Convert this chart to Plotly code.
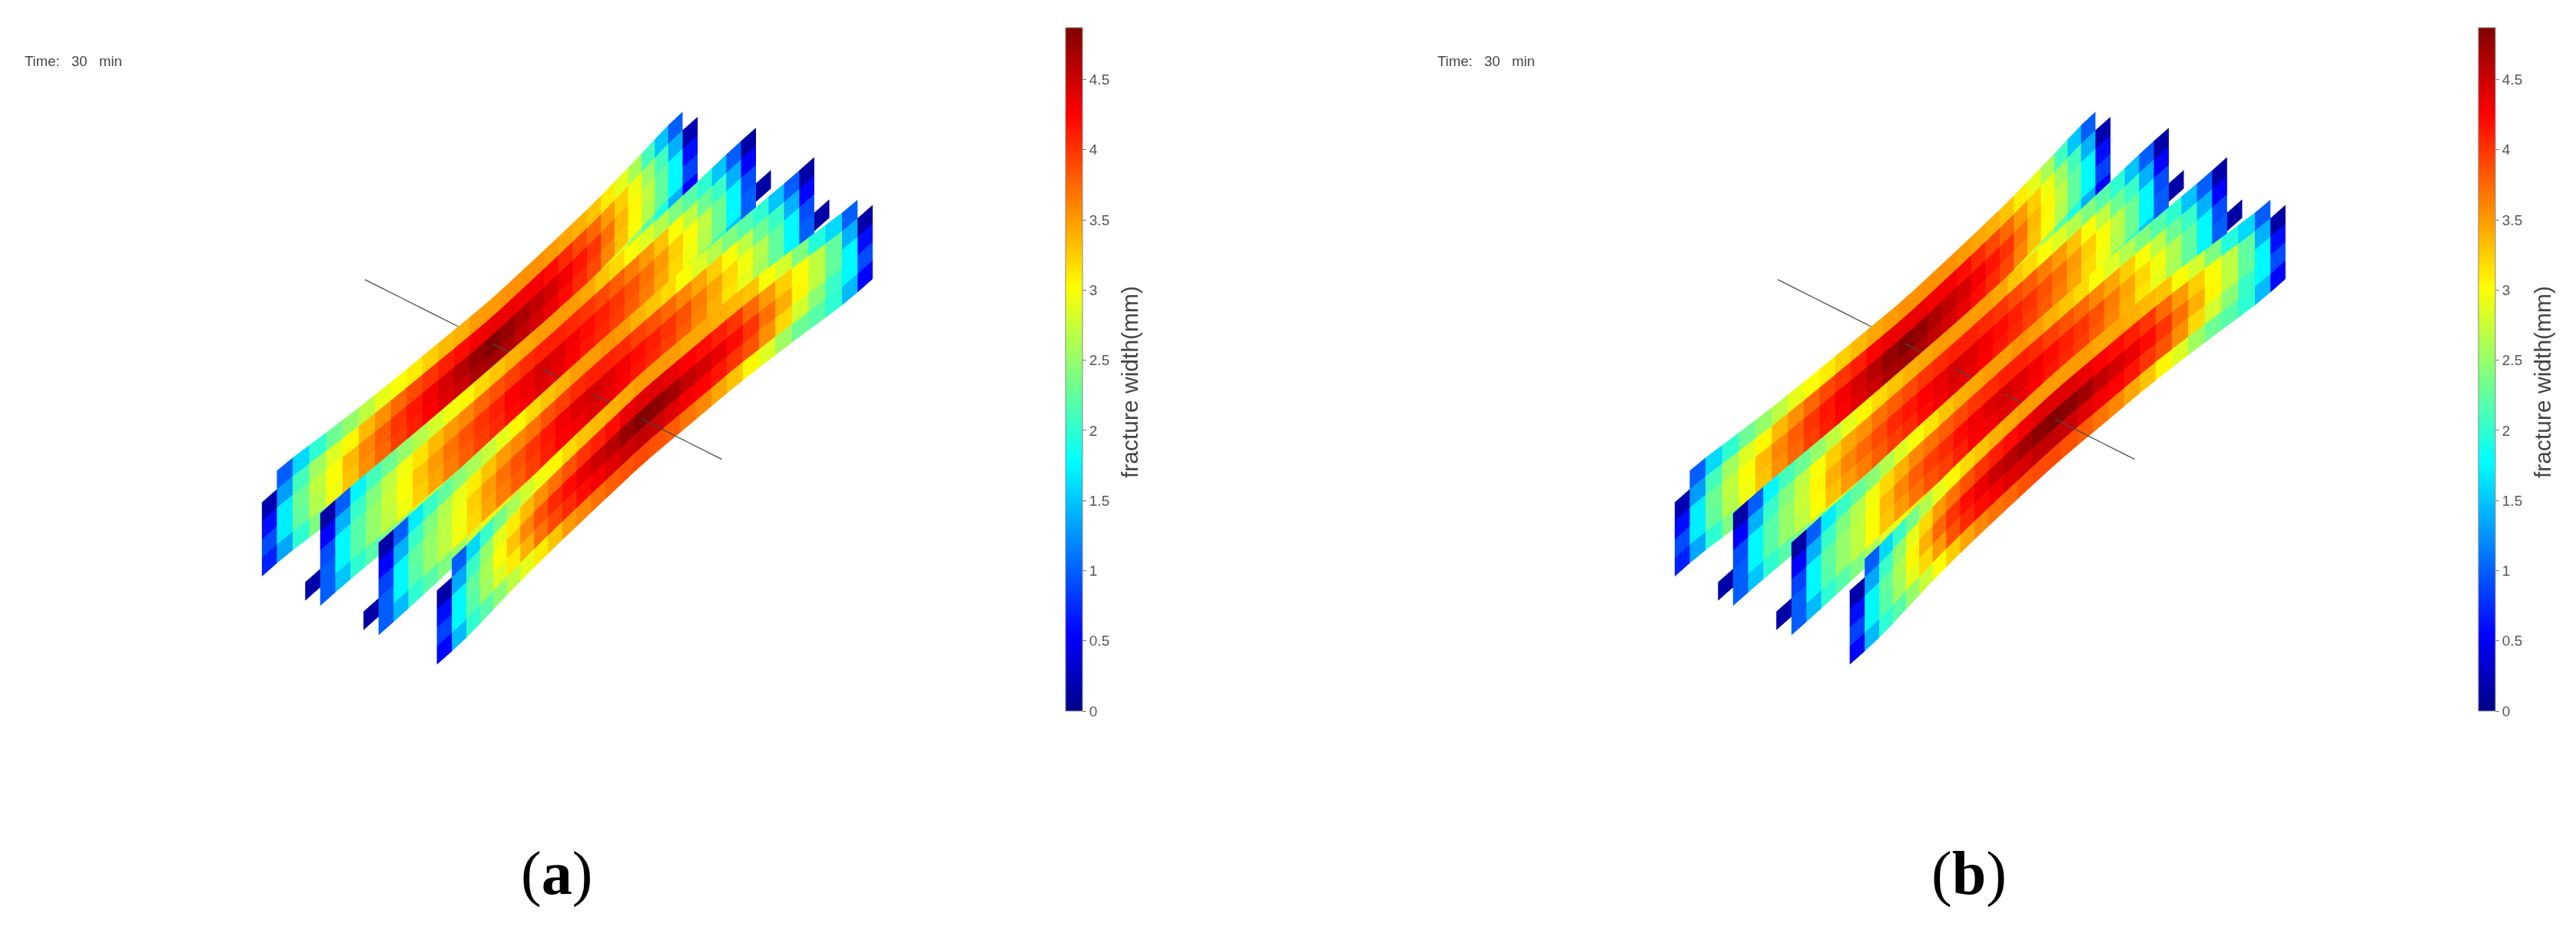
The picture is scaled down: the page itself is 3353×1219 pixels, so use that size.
import plotly.graph_objects as go

# fracture width (mm), one list per row from the top row down, columns run along the fracture length
A1_ROWS = [
    [None, 1.0, 1.6, 2.0, 2.3, 2.5, 2.7, 2.9, 3.0, 3.1, 3.25, 3.35, 3.4, 3.5, 3.5, 3.55, 3.55, 3.55, 3.5, 3.45, 3.4, 3.3, 3.1, 2.9, 2.6, 2.1, 1.5, 1.0, None],
    [0.2, 1.3, 2.1, 2.55, 2.85, 3.05, 3.35, 3.55, 3.75, 3.9, 4.0, 4.1, 4.2, 4.3, 4.35, 4.35, 4.3, 4.3, 4.2, 4.05, 3.9, 3.75, 3.5, 3.25, 2.95, 2.55, 2.1, 1.4, 0.2],
    [0.6, 1.7, 2.3, 2.7, 3.0, 3.35, 3.6, 3.8, 4.0, 4.15, 4.3, 4.45, 4.6, 4.75, 4.85, 4.75, 4.65, 4.55, 4.45, 4.3, 4.15, 4.0, 3.7, 3.35, 3.05, 2.7, 2.25, 1.75, 0.6],
    [0.9, 1.7, 2.25, 2.65, 2.95, 3.3, 3.55, 3.75, 3.95, 4.1, 4.25, 4.4, 4.5, 4.65, 4.7, 4.65, 4.55, 4.45, 4.35, 4.2, 4.05, 3.9, 3.6, 3.3, 3.0, 2.65, 2.25, 1.75, 0.85],
    [0.7, 1.35, 2.0, 2.4, 2.55, 2.8, 3.0, 3.15, 3.3, 3.45, 3.6, 3.7, 3.8, 3.85, 3.9, 3.9, 3.85, 3.75, 3.65, 3.5, 3.35, 3.2, 3.0, 2.8, 2.5, 2.2, 1.9, 1.4, 0.55],
]
A2_ROWS = [
    [None, 0.15, 1.0, 1.75, 2.1, 2.3, 2.5, 2.65, 2.8, 2.95, 3.05, 3.2, 3.3, 3.4, 3.45, 3.5, 3.5, 3.5, 3.45, 3.3, 3.2, 3.0, 2.85, 2.65, 2.4, 2.2, 2.0, 1.5, 1.0, 0.15, None],
    [None, 0.55, 1.4, 2.05, 2.4, 2.7, 2.95, 3.15, 3.35, 3.5, 3.6, 3.75, 3.85, 3.95, 4.05, 4.1, 4.1, 4.05, 4.0, 3.9, 3.8, 3.65, 3.5, 3.3, 3.0, 2.7, 2.3, 2.05, 1.4, 0.55, None],
    [None, 0.9, 1.75, 2.2, 2.5, 2.75, 3.0, 3.3, 3.5, 3.7, 3.85, 4.0, 4.1, 4.25, 4.35, 4.45, 4.4, 4.3, 4.2, 4.1, 4.0, 3.85, 3.7, 3.5, 3.25, 3.0, 2.7, 2.3, 1.75, 0.9, None],
    [0.15, 1.0, 1.75, 2.2, 2.5, 2.7, 2.95, 3.25, 3.45, 3.65, 3.8, 3.95, 4.05, 4.2, 4.3, 4.4, 4.35, 4.25, 4.15, 4.05, 3.95, 3.8, 3.65, 3.45, 3.2, 2.95, 2.65, 2.3, 1.75, 1.0, 0.15],
    [None, 1.0, 1.5, 2.0, 2.2, 2.4, 2.55, 2.8, 2.95, 3.1, 3.2, 3.35, 3.45, 3.55, 3.6, 3.7, 3.65, 3.55, 3.5, 3.4, 3.3, 3.2, 3.05, 2.9, 2.7, 2.5, 2.3, 2.0, 1.5, 1.0, None],
]
A3_ROWS = [
    [None, 0.15, 1.0, 1.7, 2.05, 2.25, 2.45, 2.6, 2.75, 2.9, 3.05, 3.2, 3.3, 3.4, 3.5, 3.5, 3.55, 3.5, 3.4, 3.3, 3.2, 3.0, 2.85, 2.65, 2.4, 2.2, 2.0, 1.5, 1.0, 0.15, None],
    [None, 0.55, 1.4, 2.05, 2.4, 2.65, 2.9, 3.1, 3.3, 3.5, 3.6, 3.7, 3.85, 3.95, 4.05, 4.1, 4.1, 4.05, 3.95, 3.85, 3.75, 3.6, 3.45, 3.25, 3.0, 2.7, 2.3, 2.05, 1.4, 0.55, None],
    [None, 0.85, 1.75, 2.25, 2.5, 2.7, 2.95, 3.25, 3.5, 3.7, 3.85, 4.0, 4.15, 4.3, 4.4, 4.45, 4.4, 4.3, 4.2, 4.1, 4.0, 3.85, 3.65, 3.45, 3.2, 2.95, 2.65, 2.25, 1.75, 0.9, None],
    [0.15, 1.0, 1.75, 2.2, 2.5, 2.7, 2.95, 3.2, 3.45, 3.65, 3.8, 3.95, 4.1, 4.25, 4.3, 4.4, 4.35, 4.25, 4.15, 4.05, 3.95, 3.8, 3.6, 3.4, 3.15, 2.9, 2.6, 2.25, 1.75, 1.0, 0.15],
    [None, 1.0, 1.45, 2.0, 2.2, 2.4, 2.55, 2.8, 2.95, 3.1, 3.2, 3.35, 3.45, 3.55, 3.6, 3.7, 3.65, 3.55, 3.5, 3.4, 3.3, 3.2, 3.05, 2.85, 2.7, 2.5, 2.3, 2.0, 1.5, 1.0, None],
]
A4_ROWS = [
    [None, 1.0, 1.6, 2.05, 2.35, 2.6, 2.8, 2.95, 3.05, 3.2, 3.3, 3.35, 3.4, 3.45, 3.5, 3.5, 3.5, 3.45, 3.45, 3.4, 3.35, 3.3, 3.0, 2.8, 2.4, 1.95, 1.6, 1.0, None],
    [0.15, 1.35, 2.05, 2.5, 2.9, 3.1, 3.35, 3.55, 3.7, 3.85, 4.0, 4.1, 4.2, 4.35, 4.4, 4.4, 4.35, 4.25, 4.2, 4.1, 4.0, 3.75, 3.5, 3.25, 3.0, 2.7, 2.25, 1.4, 0.15],
    [0.6, 1.75, 2.25, 2.6, 3.0, 3.3, 3.6, 3.85, 4.05, 4.2, 4.35, 4.5, 4.6, 4.75, 4.85, 4.8, 4.7, 4.55, 4.45, 4.35, 4.2, 4.0, 3.7, 3.4, 3.05, 2.7, 2.25, 1.75, 0.6],
    [0.85, 1.75, 2.2, 2.55, 2.85, 3.1, 3.4, 3.7, 3.9, 4.05, 4.2, 4.3, 4.4, 4.5, 4.55, 4.5, 4.4, 4.3, 4.25, 4.15, 4.0, 3.85, 3.55, 3.2, 2.8, 2.45, 2.05, 1.75, 0.9],
    [0.55, 1.45, 2.0, 2.2, 2.45, 2.7, 2.9, 3.1, 3.3, 3.5, 3.6, 3.7, 3.8, 3.85, 3.9, 3.85, 3.8, 3.7, 3.6, 3.45, 3.3, 3.05, 2.85, 2.55, 2.3, 2.2, 2.0, 1.45, 0.55],
]

B1_ROWS = [
    [None, 1.0, 1.6, 2.0, 2.3, 2.5, 2.7, 2.9, 3.0, 3.1, 3.25, 3.35, 3.45, 3.5, 3.55, 3.55, 3.55, 3.55, 3.5, 3.45, 3.4, 3.3, 3.1, 2.9, 2.6, 2.1, 1.5, 1.0, None],
    [0.2, 1.3, 2.1, 2.55, 2.85, 3.05, 3.35, 3.55, 3.75, 3.9, 4.0, 4.1, 4.25, 4.35, 4.35, 4.35, 4.3, 4.3, 4.2, 4.05, 3.9, 3.75, 3.5, 3.25, 2.95, 2.55, 2.1, 1.4, 0.2],
    [0.6, 1.7, 2.3, 2.7, 3.0, 3.35, 3.6, 3.8, 4.0, 4.15, 4.3, 4.45, 4.6, 4.75, 4.85, 4.75, 4.65, 4.55, 4.45, 4.3, 4.15, 4.0, 3.7, 3.35, 3.05, 2.7, 2.25, 1.75, 0.6],
    [0.9, 1.7, 2.25, 2.65, 2.95, 3.3, 3.55, 3.75, 3.95, 4.1, 4.25, 4.4, 4.5, 4.65, 4.7, 4.65, 4.55, 4.45, 4.35, 4.2, 4.05, 3.9, 3.6, 3.3, 3.0, 2.65, 2.25, 1.75, 0.85],
    [0.7, 1.35, 2.0, 2.4, 2.55, 2.8, 3.0, 3.15, 3.3, 3.45, 3.6, 3.7, 3.8, 3.85, 3.9, 3.9, 3.85, 3.75, 3.65, 3.5, 3.35, 3.2, 3.0, 2.8, 2.5, 2.2, 1.9, 1.4, 0.55],
]
B2_ROWS = [
    [None, 0.15, 1.0, 1.75, 2.1, 2.3, 2.5, 2.7, 2.9, 3.05, 3.2, 3.3, 3.4, 3.45, 3.5, 3.5, 3.5, 3.5, 3.45, 3.3, 3.2, 3.0, 2.85, 2.65, 2.4, 2.2, 2.0, 1.5, 1.0, 0.15, None],
    [None, 0.55, 1.4, 2.05, 2.4, 2.7, 3.0, 3.25, 3.45, 3.55, 3.7, 3.8, 3.9, 4.0, 4.05, 4.1, 4.1, 4.05, 4.0, 3.9, 3.8, 3.65, 3.5, 3.3, 3.0, 2.7, 2.3, 2.05, 1.4, 0.55, None],
    [None, 0.9, 1.75, 2.2, 2.5, 2.75, 3.05, 3.4, 3.6, 3.75, 3.9, 4.05, 4.15, 4.25, 4.35, 4.45, 4.4, 4.3, 4.2, 4.1, 4.0, 3.85, 3.7, 3.5, 3.25, 3.0, 2.7, 2.3, 1.75, 0.9, None],
    [0.15, 1.0, 1.75, 2.2, 2.5, 2.7, 3.0, 3.3, 3.5, 3.65, 3.8, 3.95, 4.05, 4.2, 4.3, 4.4, 4.35, 4.25, 4.15, 4.05, 3.95, 3.8, 3.65, 3.45, 3.2, 2.95, 2.65, 2.3, 1.75, 1.0, 0.15],
    [None, 1.0, 1.5, 2.0, 2.2, 2.4, 2.6, 2.85, 3.0, 3.1, 3.2, 3.35, 3.45, 3.55, 3.6, 3.7, 3.65, 3.55, 3.5, 3.4, 3.3, 3.2, 3.05, 2.9, 2.7, 2.5, 2.3, 2.0, 1.5, 1.0, None],
]
B3_ROWS = [
    [None, 0.15, 1.0, 1.7, 2.05, 2.25, 2.45, 2.65, 2.85, 3.0, 3.15, 3.3, 3.4, 3.45, 3.5, 3.5, 3.55, 3.5, 3.4, 3.3, 3.2, 3.0, 2.85, 2.65, 2.4, 2.2, 2.0, 1.5, 1.0, 0.15, None],
    [None, 0.55, 1.4, 2.05, 2.4, 2.65, 2.95, 3.2, 3.4, 3.6, 3.7, 3.8, 3.9, 4.0, 4.05, 4.1, 4.1, 4.05, 3.95, 3.85, 3.75, 3.6, 3.45, 3.25, 3.0, 2.7, 2.3, 2.05, 1.4, 0.55, None],
    [None, 0.85, 1.75, 2.25, 2.5, 2.7, 3.0, 3.35, 3.6, 3.8, 3.95, 4.05, 4.2, 4.3, 4.4, 4.45, 4.4, 4.3, 4.2, 4.1, 4.0, 3.85, 3.65, 3.45, 3.2, 2.95, 2.65, 2.25, 1.75, 0.9, None],
    [0.15, 1.0, 1.75, 2.2, 2.5, 2.7, 3.0, 3.3, 3.5, 3.7, 3.85, 3.95, 4.1, 4.25, 4.3, 4.4, 4.35, 4.25, 4.15, 4.05, 3.95, 3.8, 3.6, 3.4, 3.15, 2.9, 2.6, 2.25, 1.75, 1.0, 0.15],
    [None, 1.0, 1.45, 2.0, 2.2, 2.4, 2.6, 2.85, 3.0, 3.1, 3.2, 3.35, 3.45, 3.55, 3.6, 3.7, 3.65, 3.55, 3.5, 3.4, 3.3, 3.2, 3.05, 2.85, 2.7, 2.5, 2.3, 2.0, 1.5, 1.0, None],
]
B4_ROWS = [
    [None, 1.0, 1.6, 2.05, 2.35, 2.65, 2.9, 3.05, 3.2, 3.3, 3.4, 3.45, 3.5, 3.5, 3.5, 3.5, 3.5, 3.45, 3.45, 3.4, 3.35, 3.3, 3.0, 2.8, 2.4, 1.95, 1.6, 1.0, None],
    [0.15, 1.35, 2.05, 2.5, 2.9, 3.2, 3.5, 3.7, 3.85, 4.0, 4.1, 4.2, 4.3, 4.4, 4.4, 4.4, 4.35, 4.25, 4.2, 4.1, 4.0, 3.75, 3.5, 3.25, 3.0, 2.7, 2.25, 1.4, 0.15],
    [0.6, 1.75, 2.25, 2.6, 3.05, 3.4, 3.75, 4.0, 4.2, 4.35, 4.5, 4.6, 4.7, 4.8, 4.85, 4.8, 4.7, 4.55, 4.45, 4.35, 4.2, 4.0, 3.7, 3.4, 3.05, 2.7, 2.25, 1.75, 0.6],
    [0.85, 1.75, 2.2, 2.55, 2.9, 3.2, 3.5, 3.85, 4.05, 4.2, 4.3, 4.4, 4.45, 4.55, 4.55, 4.5, 4.4, 4.3, 4.25, 4.15, 4.0, 3.85, 3.55, 3.2, 2.8, 2.45, 2.05, 1.75, 0.9],
    [0.55, 1.45, 2.0, 2.2, 2.5, 2.75, 3.0, 3.25, 3.45, 3.6, 3.7, 3.75, 3.85, 3.9, 3.9, 3.85, 3.8, 3.7, 3.6, 3.45, 3.3, 3.05, 2.85, 2.55, 2.3, 2.2, 2.0, 1.45, 0.55],
]

PANEL_A = [A1_ROWS, A2_ROWS, A3_ROWS, A4_ROWS]
PANEL_B = [B1_ROWS, B2_ROWS, B3_ROWS, B4_ROWS]

# where each fracture sits along the wellbore and where it starts along its length
FRACTURE_X = [0, 1, 2, 3]
FRACTURE_START = [1, 0, 0, 1]
WELL_X = [-1.97, 4.15]
WELL_Y = [15.5, 15.5]
WELL_Z = [2.5, 2.5]

CB_TICKS = [0, 0.5, 1, 1.5, 2, 2.5, 3, 3.5, 4, 4.5]
CB_LABELS = ["0", "0.5", "1", "1.5", "2", "2.5", "3", "3.5", "4", "4.5"]
W_MAX = 4.87

# sideways bulge of each sheet per mm of width above BULGE_FLOOR, the tips stay flat
BULGE = [0.079, 0.033, -0.027, -0.079]
BULGE_FLOOR = 2.0

JET = [
    [0.0, "rgb(0,0,135)"],
    [0.111, "rgb(0,0,255)"],
    [0.365, "rgb(0,255,255)"],
    [0.619, "rgb(255,255,0)"],
    [0.873, "rgb(255,0,0)"],
    [1.0, "rgb(128,0,0)"],
]

W, H = 3353, 1219
PANEL_SHIFT = 1839
ZOOM = 2.14  # orthographic scenes scale with the aspect ratio, not the eye distance


def column_offset(rows, c):
    # sideways offset of the column edge c, from the widest cell of the columns touching it
    vals = []
    for cc in (c - 1, c):
        if 0 <= cc < len(rows[0]):
            cells = [row[cc] for row in rows if row[cc] is not None]
            vals.append(max(max(cells) - BULGE_FLOOR, 0.0))
        else:
            vals.append(0.0)
    return sum(vals) / 2


def build_mesh(panel):
    xs, ys, zs, ii, jj, kk, val = [], [], [], [], [], [], []
    for f, top_down in enumerate(panel):
        rows = top_down[::-1]
        ncol = len(rows[0])
        base = len(xs)
        for r in range(len(rows) + 1):
            for c in range(ncol + 1):
                xs.append(FRACTURE_X[f] + BULGE[f] * column_offset(rows, c))
                ys.append(FRACTURE_START[f] + c)
                zs.append(r)
        for r, row in enumerate(rows):
            for c, w in enumerate(row):
                if w is None:
                    continue
                a = base + r * (ncol + 1) + c
                b = a + 1
                d = a + ncol + 1
                e = d + 1
                ii += [a, a]
                jj += [b, e]
                kk += [e, d]
                val += [w, w]
    return xs, ys, zs, ii, jj, kk, val


def pane_traces(panel, scene, shift):
    xs, ys, zs, ii, jj, kk, val = build_mesh(panel)
    mesh = go.Mesh3d(
        x=xs, y=ys, z=zs, i=ii, j=jj, k=kk,
        intensity=val, intensitymode="cell",
        colorscale=JET, cmin=0, cmax=W_MAX,
        flatshading=True,
        lighting=dict(ambient=1, diffuse=0, specular=0, roughness=1, fresnel=0),
        scene=scene,
        colorbar=dict(
            x=(1379 + shift) / W, xanchor="left", xpad=0,
            y=1 - 472.5 / H, yanchor="middle", ypad=0,
            len=889 / H, lenmode="fraction", thickness=22,
            tickvals=CB_TICKS, ticktext=CB_LABELS,
            ticks="outside", ticklen=5, tickcolor="#777777",
            outlinecolor="#888888", outlinewidth=1,
            tickfont=dict(family="Liberation Sans", size=19, color="#555555"),
        ),
    )
    well = go.Scatter3d(
        x=WELL_X, y=WELL_Y, z=WELL_Z, mode="lines",
        line=dict(color="#4a4a4a", width=2.5),
        scene=scene, showlegend=False,
    )
    return [mesh, well]


def scene_layout(shift):
    left, right = 100 + shift, 1300 + shift
    return dict(
        domain=dict(x=[left / W, right / W], y=[(H - 943) / H, (H - 3) / H]),
        xaxis=dict(visible=False, range=[-2.2, 4.4]),
        yaxis=dict(visible=False, range=[0, 31]),
        zaxis=dict(visible=False, range=[0, 5]),
        aspectmode="manual",
        aspectratio=dict(x=0.624 * ZOOM, y=1.001 * ZOOM, z=0.161 * ZOOM),
        bgcolor="white",
        camera=dict(
            projection=dict(type="orthographic"),
            up=dict(x=0, y=0, z=1),
            center=dict(x=0, y=0, z=0),
            eye=dict(x=0.4485 * 3, y=-0.5945 * 3, z=0.667 * 3),
        ),
    )


fig = go.Figure()
fig.add_traces(pane_traces(PANEL_A, "scene", 0))
fig.add_traces(pane_traces(PANEL_B, "scene2", PANEL_SHIFT))

annotations = []
for shift, letter in ((0, "a"), (PANEL_SHIFT, "b")):
    annotations.append(dict(
        x=(87 + shift) / W, y=1 - 71 / H, xref="paper", yref="paper",
        xanchor="center", yanchor="middle",
        text="Time:\u00a0\u00a0\u00a030\u00a0\u00a0\u00a0min", showarrow=False,
        font=dict(family="Liberation Sans", size=18.5, color="#444444"),
    ))
    annotations.append(dict(
        x=(1463 + shift) / W, y=1 - 489 / H, xref="paper", yref="paper",
        xanchor="center", yanchor="middle",
        text="fracture width(mm)", textangle=-90, showarrow=False,
        font=dict(family="Liberation Sans", size=30, color="#444444"),
    ))
    annotations.append(dict(
        x=(716 + shift) / W, y=1 - 1128 / H, xref="paper", yref="paper",
        xanchor="center", yanchor="middle",
        text=f"(<b>{letter}</b>)", showarrow=False,
        font=dict(family="Liberation Serif", size=80, color="black"),
    ))

fig.update_layout(
    width=W, height=H,
    margin=dict(l=0, r=0, t=0, b=0),
    paper_bgcolor="white",
    showlegend=False,
    scene=scene_layout(0),
    scene2=scene_layout(PANEL_SHIFT),
    annotations=annotations,
)

fig.write_html("out.html")
